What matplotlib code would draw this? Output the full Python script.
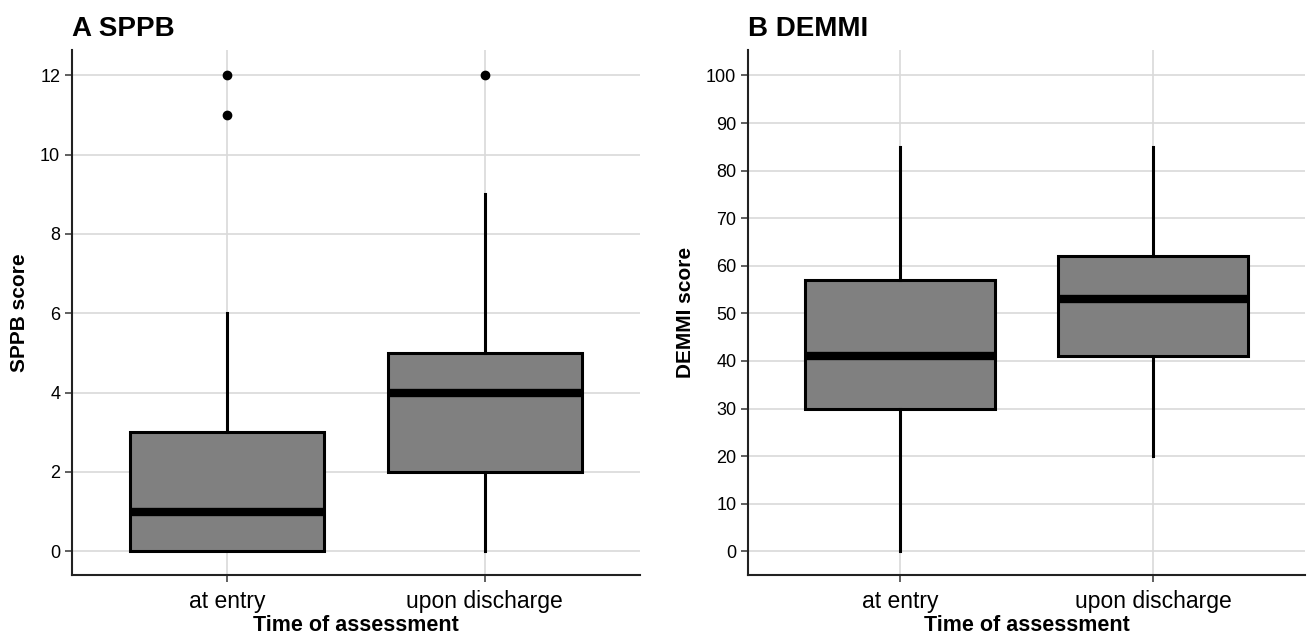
import matplotlib.pyplot as plt

plt.rcParams['font.family'] = ['Liberation Sans', 'DejaVu Sans']

categories = ['at entry', 'upon discharge']

# SPPB: whisker low, q1, median, q3, whisker high, outliers
sppb_whislo = [0, 0]
sppb_q1 = [0, 2]
sppb_med = [1, 4]
sppb_q3 = [3, 5]
sppb_whishi = [6, 9]
sppb_fliers = [[11, 12], [12]]

# DEMMI
demmi_whislo = [0, 20]
demmi_q1 = [30, 41]
demmi_med = [41, 53]
demmi_q3 = [57, 62]
demmi_whishi = [85, 85]
demmi_fliers = [[], []]


def make_stats(lo, q1, med, q3, hi, fliers):
    stats = []
    for i in range(len(categories)):
        stats.append({'whislo': lo[i], 'q1': q1[i], 'med': med[i], 'q3': q3[i],
                      'whishi': hi[i], 'fliers': fliers[i], 'label': categories[i]})
    return stats


def draw_panel(ax, stats, title, ylabel, yticks, ylim):
    ax.bxp(stats, positions=[1, 2], widths=0.75, patch_artist=True, showcaps=False,
           boxprops=dict(facecolor='#808080', edgecolor='black', linewidth=2.2),
           medianprops=dict(color='black', linewidth=6, solid_capstyle='butt'),
           whiskerprops=dict(color='black', linewidth=2.2),
           flierprops=dict(marker='o', markerfacecolor='black', markeredgecolor='black',
                           markersize=6))
    ax.set_xlim(0.4, 2.6)
    ax.set_ylim(*ylim)
    ax.set_yticks(yticks)
    ax.set_xticks([1, 2])
    ax.set_xticklabels(categories)
    ax.grid(True, color='#d9d9d9', linewidth=1.2)
    ax.set_axisbelow(True)
    for s in ['top', 'right']:
        ax.spines[s].set_visible(False)
    for s in ['left', 'bottom']:
        ax.spines[s].set_linewidth(1.5)
        ax.spines[s].set_color('#222222')
    ax.tick_params(axis='both', labelsize=13, length=5, width=1.2, color='#444444')
    ax.tick_params(axis='x', labelsize=16.5, pad=6)
    ax.set_xlabel('Time of assessment', fontsize=15.5, fontweight='bold', labelpad=1)
    ax.set_ylabel(ylabel, fontsize=15, fontweight='bold', labelpad=8)
    ax.set_title(title, fontsize=20, fontweight='bold', loc='left', x=0.0, pad=10)


fig = plt.figure(figsize=(13.08, 6.44), dpi=100)
ax1 = fig.add_axes([0.055, 0.107, 0.434, 0.815])
ax2 = fig.add_axes([0.572, 0.107, 0.426, 0.815])

draw_panel(ax1, make_stats(sppb_whislo, sppb_q1, sppb_med, sppb_q3, sppb_whishi, sppb_fliers),
           'A SPPB', 'SPPB score', range(0, 13, 2), (-0.6, 12.63))
draw_panel(ax2, make_stats(demmi_whislo, demmi_q1, demmi_med, demmi_q3, demmi_whishi, demmi_fliers),
           'B DEMMI', 'DEMMI score', range(0, 101, 10), (-5.0, 105.3))

fig.savefig('out.png', dpi=100)
